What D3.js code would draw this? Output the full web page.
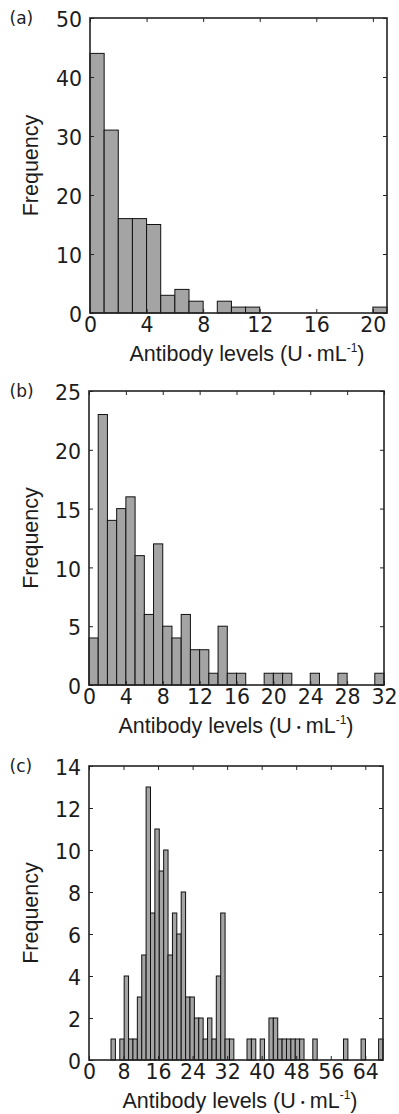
<!DOCTYPE html>
<html>
<head>
<meta charset="utf-8">
<script src="https://cdn.jsdelivr.net/npm/d3@7"></script>
<style>
body { margin: 0; background: #fff; }
.tick text { font-family: "DejaVu Sans", sans-serif; font-size: 20.5px; fill: #1c1c1c; }
.tick line { stroke: #222; }
</style>
</head>
<body>
<div id="chart"></div>
<script>
// (a) frequency per 1 U/mL bin, starting at 0
var countsA = [44, 31, 16, 16, 15, 3, 4, 2, 0, 2, 1, 1, 0, 0, 0, 0, 0, 0, 0, 0, 1];
var xTicksA = [0, 4, 8, 12, 16, 20];
var yTicksA = [0, 10, 20, 30, 40, 50];

// (b) frequency per 1 U/mL bin, starting at 0
var countsB = [4, 23, 14, 15, 16, 11, 6, 12, 5, 4, 6, 3, 3, 1, 5, 1, 1, 0, 0, 1,
               1, 1, 0, 0, 1, 0, 0, 1, 0, 0, 0, 1];
var xTicksB = [0, 4, 8, 12, 16, 20, 24, 28, 32];
var yTicksB = [0, 5, 10, 15, 20, 25];

// (c) 62 equal bins between the min and max value
var countsC = [1, 0, 1, 4, 1, 1, 3, 5, 13, 7,
               11, 9, 10, 5, 7, 6, 8, 3, 3, 2,
               2, 1, 2, 1, 4, 7, 1, 1, 0, 0,
               0, 1, 1, 0, 1, 0, 2, 2, 1, 1,
               1, 1, 1, 1, 0, 0, 1, 0, 0, 0,
               0, 0, 0, 1, 0, 0, 0, 1, 0, 0,
               0, 1];
var rangeC = [5.1, 68.1];
var xTicksC = [0, 8, 16, 24, 32, 40, 48, 56, 64];
var yTicksC = [0, 2, 4, 6, 8, 10, 12, 14];

var xTitle = "Antibody levels (U";
var yTitle = "Frequency";

function edges(counts, lo, hi) {
    var n = counts.length, w = (hi - lo) / n;
    return counts.map(function(c, i) { return {x0: lo + i * w, x1: lo + (i + 1) * w, n: c}; });
}

var panels = [
    {label: "(a)", bins: edges(countsA, 0, countsA.length), xMax: 21, yMax: 50,
     xTicks: xTicksA, yTicks: yTicksA, left: 90, right: 387, top: 18, bottom: 313, titleX: 247},
    {label: "(b)", bins: edges(countsB, 0, countsB.length), xMax: 32, yMax: 25,
     xTicks: xTicksB, yTicks: yTicksB, left: 89, right: 384, top: 391, bottom: 685, titleX: 236},
    {label: "(c)", bins: edges(countsC, rangeC[0], rangeC[1]), xMax: rangeC[1], yMax: 14,
     xTicks: xTicksC, yTicks: yTicksC, left: 89, right: 383, top: 766, bottom: 1060, titleX: 240}
];

var svg = d3.select("#chart")
    .append("svg")
    .attr("width", 399)
    .attr("height", 1114)
    .style("display", "block");

svg.append("rect").attr("width", 399).attr("height", 1114).attr("fill", "#fff");

panels.forEach(function(p) {
    var x = d3.scaleLinear().domain([0, p.xMax]).range([p.left, p.right]);
    var y = d3.scaleLinear().domain([0, p.yMax]).range([p.bottom, p.top]);
    var g = svg.append("g");

    // bars
    g.append("g")
        .selectAll("rect")
        .data(p.bins.filter(function(d) { return d.n > 0; }))
        .enter().append("rect")
        .attr("x", function(d) { return x(d.x0); })
        .attr("width", function(d) { return x(d.x1) - x(d.x0); })
        .attr("y", function(d) { return y(d.n); })
        .attr("height", function(d) { return y(0) - y(d.n); })
        .attr("fill", "#a4a4a4")
        .attr("stroke", "#111")
        .attr("stroke-width", 1);

    // axes with inward ticks
    g.append("g")
        .attr("transform", "translate(0," + p.bottom + ")")
        .call(d3.axisBottom(x).tickValues(p.xTicks).tickSizeInner(-4).tickSizeOuter(0).tickPadding(4))
        .call(function(a) { a.select(".domain").remove(); });
    g.append("g")
        .attr("transform", "translate(" + p.left + ",0)")
        .call(d3.axisLeft(y).tickValues(p.yTicks).tickSizeInner(-4).tickSizeOuter(0).tickPadding(8))
        .call(function(a) { a.select(".domain").remove(); a.selectAll("text").attr("dy", "0.42em"); });
    g.append("g")
        .attr("transform", "translate(" + p.right + ",0)")
        .call(d3.axisRight(y).tickValues(p.yTicks).tickSizeInner(-4).tickSizeOuter(0).tickFormat(""))
        .call(function(a) { a.select(".domain").remove(); });
    g.append("g")
        .attr("transform", "translate(0," + p.top + ")")
        .call(d3.axisTop(x).tickValues(p.xTicks).tickSizeInner(-4).tickSizeOuter(0).tickFormat(""))
        .call(function(a) { a.select(".domain").remove(); });

    // frame
    g.append("rect")
        .attr("x", p.left)
        .attr("y", p.top)
        .attr("width", p.right - p.left)
        .attr("height", p.bottom - p.top)
        .attr("fill", "none")
        .attr("stroke", "#222")
        .attr("stroke-width", 1.6);

    // panel label
    g.append("text")
        .attr("x", 9.5)
        .attr("y", p.top + 5.5)
        .style("font-family", "DejaVu Sans, sans-serif")
        .style("font-size", "17px")
        .attr("fill", "#1c1c1c")
        .text(p.label);

    // y title
    g.append("text")
        .attr("transform", "translate(37.5," + (p.top + p.bottom) / 2 + ") rotate(-90)")
        .attr("text-anchor", "middle")
        .style("font-family", "Liberation Sans, sans-serif")
        .style("font-size", "21.5px")
        .attr("fill", "#1c1c1c")
        .text(yTitle);

    // x title with superscript unit
    var t = g.append("text")
        .attr("x", p.titleX)
        .attr("y", p.bottom + 48)
        .attr("text-anchor", "middle")
        .style("font-family", "Liberation Sans, 'Noto Sans CJK JP', sans-serif")
        .style("font-size", "21.5px")
        .attr("fill", "#1c1c1c");
    t.append("tspan").text(xTitle);
    t.append("tspan").style("font-size", "14px").attr("dy", -1.5).text("・");
    t.append("tspan").attr("dy", 1.5).text("mL");
    t.append("tspan").style("font-size", "12px").attr("dy", -9).text("-1");
    t.append("tspan").attr("dy", 9).text(")");
});
</script>
</body>
</html>
